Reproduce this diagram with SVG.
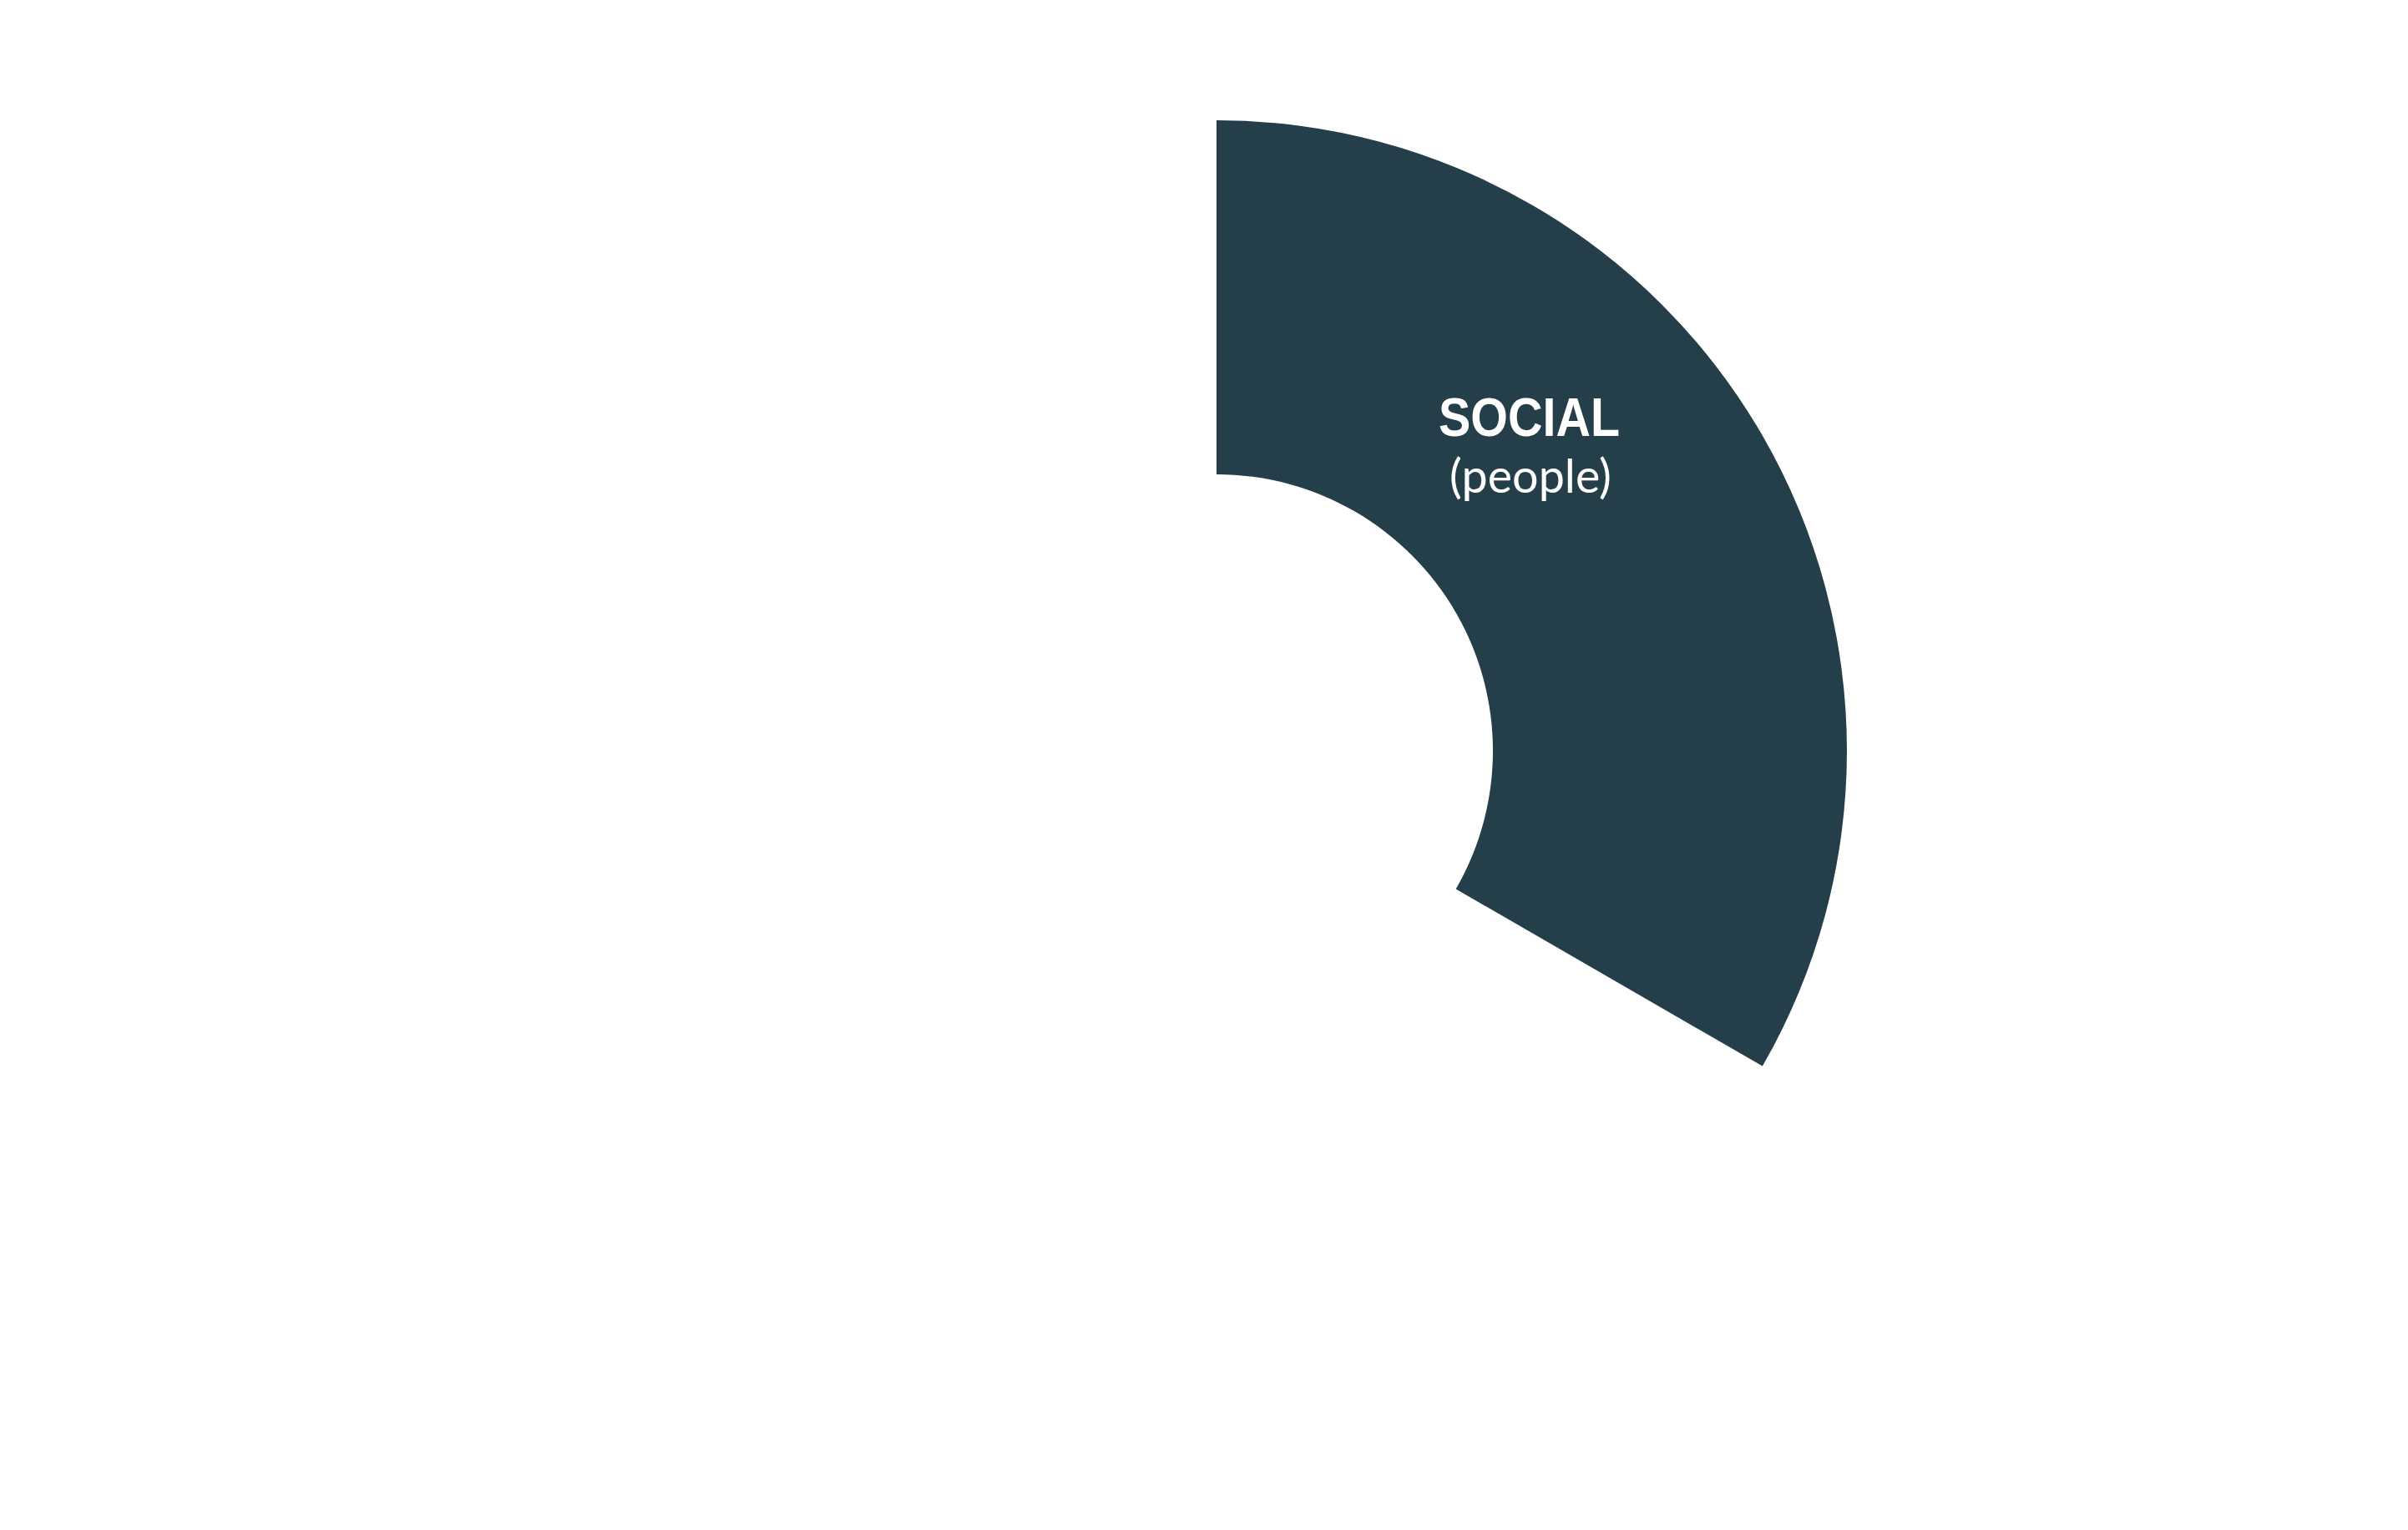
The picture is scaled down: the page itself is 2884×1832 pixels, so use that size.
<svg xmlns="http://www.w3.org/2000/svg" width="2884" height="1832" viewBox="0 0 2884 1832">
<style>
.seg{fill:#243F4A;}
.t1{font-family:"Liberation Sans",Arial,sans-serif;font-weight:700;font-size:65px;fill:#FFFFFF;}
.t2{font-family:Lato,"Liberation Sans",sans-serif;font-weight:400;font-size:56px;fill:#FFFFFF;}
</style>
<rect width="2884" height="1832" fill="#FFFFFF"/>
<g id="social">
<path class="seg" d="M 1457 144 A 755 755 0 0 1 2110.85 1276.5 L 1743.65 1064.5 A 331 331 0 0 0 1457 568 Z"/>
<text class="t1" x="1831.5" y="522" text-anchor="middle" textLength="217" lengthAdjust="spacingAndGlyphs">SOCIAL</text>
<text class="t2" x="1833" y="590" text-anchor="middle" textLength="194" lengthAdjust="spacingAndGlyphs">(people)</text>
</g>
<g id="connectors"/>
</svg>
